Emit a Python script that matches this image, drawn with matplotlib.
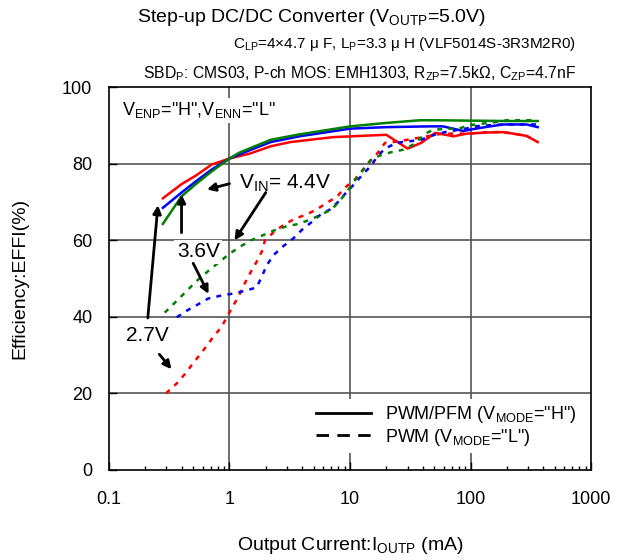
import matplotlib
matplotlib.use("Agg")
import matplotlib.pyplot as plt
from matplotlib.lines import Line2D
from matplotlib.ticker import LogLocator, NullFormatter

plt.rcParams['font.family'] = ['Liberation Sans', 'DejaVu Sans']
plt.rcParams['mathtext.default'] = 'regular'

# 効率データ (出力電流 mA, 効率 %)
# PWM/PFM モード (実線)
red_solid_x = [0.28, 0.40, 0.53, 0.71, 1.0, 1.48, 2.2, 3.2, 7.3, 20, 30, 39, 51, 72, 93, 136, 187, 226, 292, 360]
red_solid_y = [71.0, 74.7, 77.0, 79.8, 81.4, 82.7, 84.6, 85.7, 87.0, 87.6, 84.0, 85.5, 88.1, 87.2, 87.9, 88.2, 88.3, 87.9, 87.3, 85.7]
blue_solid_x = [0.28, 0.40, 0.53, 0.71, 1.0, 1.48, 2.2, 3.8, 10, 20, 46, 59, 87, 110, 145, 187, 292, 360]
blue_solid_y = [68.5, 72.5, 75.5, 78.5, 81.4, 83.6, 85.7, 87.2, 89.2, 89.6, 89.8, 89.8, 88.6, 89.2, 89.8, 90.3, 90.3, 89.6]
green_solid_x = [0.28, 0.40, 0.53, 0.71, 1.0, 1.2, 2.2, 3.8, 10, 20, 38, 50, 100, 200, 360]
green_solid_y = [64.3, 71.5, 74.8, 78.0, 81.4, 82.9, 86.3, 87.7, 89.8, 90.7, 91.4, 91.4, 91.3, 91.2, 91.2]

# PWM モード (破線)
red_dash_x = [0.297, 0.365, 0.428, 0.486, 0.558, 0.647, 0.734, 0.861, 0.948, 1.06, 1.18, 1.33, 1.48, 1.68, 1.85,
              1.97, 2.3, 2.8, 3.5, 4.24, 5.29, 6.41, 7.76, 9.1, 11.0, 12.5, 14.7, 17.2, 19.5, 24.4, 58, 93, 145, 182,
              226, 292, 360]
red_dash_y = [20.0, 22.6, 25.1, 27.4, 29.8, 32.4, 34.8, 37.4, 39.9, 42.6, 45.2, 48.6, 51.4, 54.4, 57.0,
              60.0, 62.0, 64.0, 65.7, 66.6, 68.1, 69.8, 71.4, 73.8, 76.0, 78.1, 80.7, 83.1, 85.5, 85.8, 87.9, 87.9,
              88.3, 88.3, 87.9, 87.3, 85.7]
blue_dash_x = [0.365, 0.441, 0.551, 0.667, 0.861, 1.08, 1.35, 1.68, 1.85, 2.04, 2.31, 2.8, 3.38, 3.97, 4.81, 5.64,
               6.82, 8.0, 9.4, 11.0, 12.9, 14.9, 16.7, 19.5, 24.4, 30.5, 38.1, 49.2, 61.4, 90, 116, 145, 187, 241, 360]
blue_dash_y = [39.9, 41.6, 43.3, 44.8, 45.6, 46.1, 46.8, 47.7, 50.5, 53.5, 56.1, 58.5, 60.5, 62.7, 64.8, 66.6,
               68.1, 70.1, 72.7, 74.9, 77.5, 79.4, 81.8, 84.0, 85.5, 85.9, 86.2, 87.5, 88.3, 89.2, 89.9, 90.1, 90.3,
               90.3, 90.3]
green_dash_x = [0.29, 0.342, 0.414, 0.479, 0.561, 0.679, 1.01, 1.22, 1.48, 1.91, 2.39, 2.98, 3.61, 4.6, 5.64, 7.05,
                8.15, 9.4, 11.0, 12.5, 14.7, 17.7, 22.2, 27.7, 34.6, 41.9, 49.2, 63.4, 79.1, 99, 124, 160, 200, 249, 330]
green_dash_y = [41.1, 43.3, 45.9, 47.9, 50.0, 52.2, 56.6, 58.3, 59.9, 61.4, 62.7, 63.7, 64.2, 65.3, 66.6, 68.1,
                70.2, 72.7, 75.7, 77.9, 80.9, 82.2, 83.1, 83.7, 85.3, 87.9, 88.9, 89.2, 89.2, 90.1, 90.5, 90.9, 91.4,
                91.4, 91.4]

fig = plt.figure(figsize=(6.19, 5.60), dpi=100)
ax = fig.add_axes([0.176, 0.161, 0.779, 0.683])

lw = 1.8
dash = (0, (2, 2.5))
ax.plot(red_solid_x, red_solid_y, color='#ff0000', lw=lw)
ax.plot(blue_solid_x, blue_solid_y, color='#0000ff', lw=lw)
ax.plot(green_solid_x, green_solid_y, color='#008000', lw=lw)
ax.plot(red_dash_x, red_dash_y, color='#ff0000', lw=lw, ls=dash)
ax.plot(blue_dash_x, blue_dash_y, color='#0000ff', lw=lw, ls=dash)
ax.plot(green_dash_x, green_dash_y, color='#008000', lw=lw, ls=dash)

ax.set_xscale('log')
ax.set_xlim(0.1, 1000)
ax.set_ylim(0, 100)
ax.set_yticks([0, 20, 40, 60, 80, 100])
ax.set_xticks([0.1, 1, 10, 100, 1000])
ax.set_xticklabels(['0.1', '1', '10', '100', '1000'])
ax.xaxis.set_minor_locator(LogLocator(base=10, subs=range(2, 10)))
ax.xaxis.set_minor_formatter(NullFormatter())
ax.tick_params(axis='y', which='major', direction='in', length=6, width=1, labelsize=13, pad=12)
ax.tick_params(axis='x', which='major', direction='in', length=6, width=1, labelsize=13, pad=15)
ax.tick_params(axis='x', which='minor', direction='in', length=3, width=1)
ax.tick_params(top=False, right=False, which='both')

# グリッド
for v in [1, 10, 100]:
    ax.axvline(v, color='#555555', lw=1.2, zorder=1)
for v in [20, 40, 60, 80]:
    ax.axhline(v, color='#555555', lw=1.2, zorder=1)
for s in ax.spines.values():
    s.set_linewidth(1.2)

ax.set_xlabel('Output Current:I$_{OUTP}$ (mA)', fontsize=14, labelpad=20)
ax.set_ylabel('Efficiency:EFFI(%)', fontsize=14, labelpad=24)

fig.text(0.503, 0.969, 'Step-up DC/DC Converter (V$_{OUTP}$=5.0V)', fontsize=14, ha='center', va='center')
fig.text(0.93, 0.921, 'C$_{LP}$=4×4.7 μ F, L$_{P}$=3.3 μ H (VLF5014S-3R3M2R0)', fontsize=11, ha='right', va='center')
fig.text(0.93, 0.868, 'SBD$_{P}$: CMS03, P-ch MOS: EMH1303, R$_{ZP}$=7.5kΩ, C$_{ZP}$=4.7nF', fontsize=11.3,
         ha='right', va='center')

wb = dict(facecolor='white', edgecolor='none', pad=2)
ax.text(0.128, 94, 'V$_{ENP}$="H",V$_{ENN}$="L"', fontsize=13, ha='left', va='center', bbox=wb, zorder=4)

ap = dict(arrowstyle='-|>', color='black', lw=2, mutation_scale=12, shrinkA=0, shrinkB=0)
ax.annotate('', xy=(0.65, 73.3), xytext=(1.0, 74.8), arrowprops=ap, zorder=5)
ax.annotate('', xy=(1.1, 60.0), xytext=(2.0, 72.5), arrowprops=ap, zorder=5)
ax.text(1.2, 74.8, 'V$_{IN}$= 4.4V', fontsize=15, ha='left', va='center', bbox=wb, zorder=4)

ax.text(0.55, 57.0, '3.6V', fontsize=15, ha='center', va='center', bbox=wb, zorder=4)
ax.annotate('', xy=(0.4, 72.0), xytext=(0.4, 62.0), arrowprops=ap, zorder=5)
ax.annotate('', xy=(0.67, 46.0), xytext=(0.5, 54.0), arrowprops=ap, zorder=5)

ax.text(0.21, 35.0, '2.7V', fontsize=15, ha='center', va='center', bbox=wb, zorder=4)
ax.annotate('', xy=(0.255, 69.2), xytext=(0.21, 39.7), arrowprops=ap, zorder=5)
ax.annotate('', xy=(0.33, 26.3), xytext=(0.262, 30.2), arrowprops=ap, zorder=5)

handles = [Line2D([], [], color='black', lw=2),
           Line2D([], [], color='black', lw=2, ls=(0, (4.5, 3)))]
ax.legend(handles, ['PWM/PFM (V$_{MODE}$="H")', 'PWM (V$_{MODE}$="L")'], loc='lower right',
          bbox_to_anchor=(1.0, 0.02), fontsize=13, frameon=True, facecolor='white', edgecolor='none',
          framealpha=1, handlelength=3.0, labelspacing=0.1, borderpad=0.3)

fig.savefig('out.png', dpi=100)
